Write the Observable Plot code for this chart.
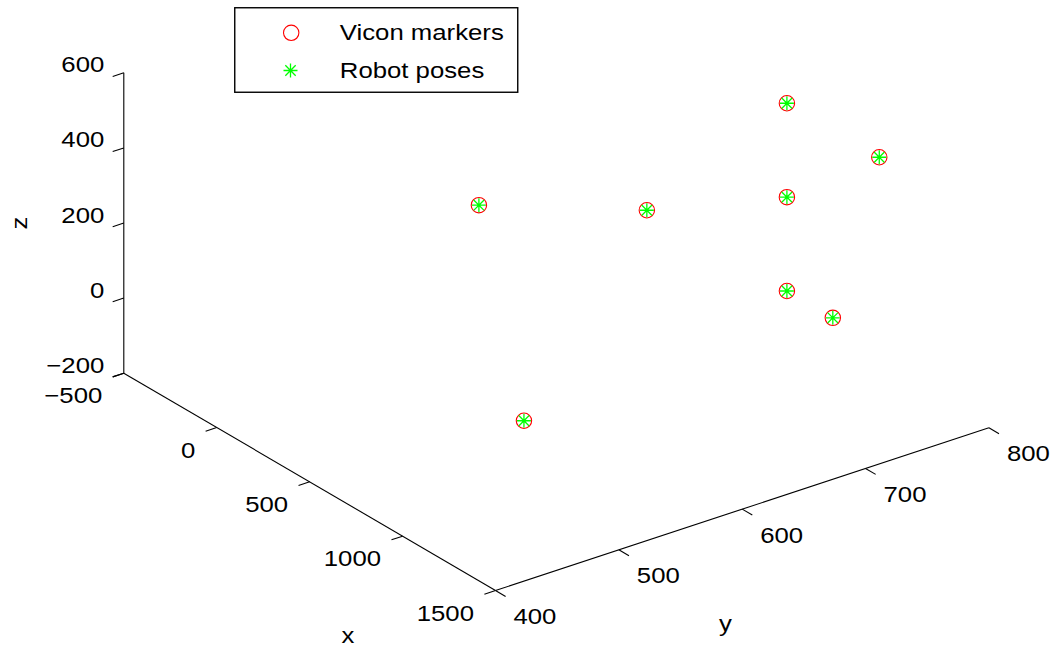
<!DOCTYPE html>
<html>
<head>
<meta charset="utf-8">
<script src="https://cdn.jsdelivr.net/npm/d3@7"></script>
<script src="https://cdn.jsdelivr.net/npm/@observablehq/plot@0.6"></script>
<style>
  html, body { margin: 0; padding: 0; background: #fff; }
  #wrap { position: relative; width: 1053px; height: 646px; }
  #legend { position: absolute; left: 234px; top: 7px; }
  text { font-family: "Liberation Sans", Arial, Helvetica, sans-serif; }
</style>
</head>
<body>
<div id="wrap"></div>
<script>
// ---- data ----
const viconX = [745, 1242, 747, -2, 745, 745, 992, 996];
const viconY = [750, 750, 500, 749, 750, 750, 750, 499];
const viconZ = [500, 500, 500, 0, 250, 0, 0, -1];

const robotX = [745, 1242, 747, -2, 745, 745, 992, 996];
const robotY = [750, 750, 500, 749, 750, 750, 750, 499];
const robotZ = [500, 500, 500, 0, 250, 0, 0, -1];

const xLim = [-500, 1500];
const yLim = [400, 800];
const zLim = [-200, 600];
const xTicks = [-500, 0, 500, 1000, 1500];
const yTicks = [400, 500, 600, 700, 800];
const zTicks = [-200, 0, 200, 400, 600];

const seriesNames = ["Vicon markers", "Robot poses"];

// ---- view (3-D box projected onto the page plane) ----
const ORIGIN = [123.3, 372.7];   // page position of box corner (xLim0, yLim0, zLim0)
const AX = [371.7, 217.3];       // page vector of the whole x axis
const AY = [493.4, -162.7];      // page vector of the whole y axis
const AZ = [0, -300.4];          // page vector of the whole z axis
const TICK = 11.7;
const STRETCH = 1.17;
const W = 1053, H = 646;

function proj(x, y, z) {
  const nx = (x - xLim[0]) / (xLim[1] - xLim[0]);
  const ny = (y - yLim[0]) / (yLim[1] - yLim[0]);
  const nz = (z - zLim[0]) / (zLim[1] - zLim[0]);
  return {
    u: ORIGIN[0] + nx * AX[0] + ny * AY[0] + nz * AZ[0],
    v: ORIGIN[1] + nx * AX[1] + ny * AY[1] + nz * AZ[1]
  };
}
const unit = (a) => { const l = Math.hypot(a[0], a[1]); return [a[0] / l, a[1] / l]; };
const uX = unit(AX), uY = unit(AY);
const fmt = (v) => String(v).replace("-", "\u2212");

const vicon = viconX.map((x, i) => ({...proj(x, viconY[i], viconZ[i])}));
const robot = robotX.map((x, i) => ({...proj(x, robotY[i], robotZ[i])}));

const seg = (a, b) => ({u1: a.u, v1: a.v, u2: b.u, v2: b.v});
const axisLines = [
  seg(proj(xLim[0], yLim[0], zLim[0]), proj(xLim[0], yLim[0], zLim[1])),
  seg(proj(xLim[0], yLim[0], zLim[0]), proj(xLim[1], yLim[0], zLim[0])),
  seg(proj(xLim[1], yLim[0], zLim[0]), proj(xLim[1], yLim[1], zLim[0]))
];
const tickOut = (p, d) => ({u1: p.u, v1: p.v, u2: p.u + d[0] * TICK, v2: p.v + d[1] * TICK});
const negY = [-uY[0], -uY[1]];
const zTickPts = zTicks.map(z => ({...proj(xLim[0], yLim[0], z), label: fmt(z)}));
const xTickPts = xTicks.map(x => ({...proj(x, yLim[0], zLim[0]), label: fmt(x)}));
const yTickPts = yTicks.map(y => ({...proj(xLim[1], y, zLim[0]), label: fmt(y)}));
const tickSegs = [
  ...zTickPts.map(p => tickOut(p, negY)),
  ...xTickPts.map(p => tickOut(p, negY)),
  ...yTickPts.map(p => tickOut(p, uX))
];

const zMid = proj(xLim[0], yLim[0], (zLim[0] + zLim[1]) / 2);
const xMid = proj((xLim[0] + xLim[1]) / 2, yLim[0], zLim[0]);
const yMid = proj(xLim[1], (yLim[0] + yLim[1]) / 2, zLim[0]);

const asterisk = {
  draw(context, size) {
    const r = Math.sqrt(size / Math.PI);
    const d = r * 0.74;
    context.moveTo(-r, 0); context.lineTo(r, 0);
    context.moveTo(0, -r); context.lineTo(0, r);
    context.moveTo(-d, -d); context.lineTo(d, d);
    context.moveTo(-d, d); context.lineTo(d, -d);
  }
};

const FS = 22;
const chart = Plot.plot({
  width: W,
  height: H,
  margin: 0,
  style: {fontFamily: '"Liberation Sans", Arial, Helvetica, sans-serif', fontSize: FS + "px", background: "white", color: "black"},
  x: {type: "linear", domain: [0, W], range: [0, W], axis: null},
  y: {type: "linear", domain: [0, H], range: [0, H], axis: null},
  marks: [
    Plot.link(axisLines, {x1: "u1", y1: "v1", x2: "u2", y2: "v2", stroke: "black", strokeWidth: 1.1}),
    Plot.link(tickSegs, {x1: "u1", y1: "v1", x2: "u2", y2: "v2", stroke: "black", strokeWidth: 1.1}),
    Plot.text(zTickPts, {x: "u", y: "v", text: "label", textAnchor: "end", lineAnchor: "middle", dx: -19.5, dy: -7.5, fontSize: FS, fill: "black"}),
    Plot.text(xTickPts, {x: "u", y: "v", text: "label", textAnchor: "end", lineAnchor: "middle", dx: -21.5, dy: 23, fontSize: FS, fill: "black"}),
    Plot.text(yTickPts, {x: "u", y: "v", text: "label", textAnchor: "start", lineAnchor: "middle", dx: 18, dy: 26.5, fontSize: FS, fill: "black"}),
    Plot.text([{...zMid, label: "z"}], {x: "u", y: "v", text: "label", rotate: -90, textAnchor: "middle", lineAnchor: "middle", dx: -103.6, dy: 0, fontSize: FS, fill: "black"}),
    Plot.text([{...xMid, label: "x"}], {x: "u", y: "v", text: "label", textAnchor: "middle", lineAnchor: "middle", dx: 38.3, dy: 154.4, fontSize: FS, fill: "black"}),
    Plot.text([{...yMid, label: "y"}], {x: "u", y: "v", text: "label", textAnchor: "middle", lineAnchor: "middle", dx: -16.7, dy: 114.4, fontSize: FS, fill: "black"}),
    Plot.dot(vicon, {x: "u", y: "v", r: 7.7, stroke: "#ff0000", strokeWidth: 1.1, fill: "none"}),
    Plot.dot(robot, {x: "u", y: "v", r: 7, symbol: asterisk, stroke: "#00ff00", strokeWidth: 1.3, fill: "none"})
  ]
});

// widen glyphs horizontally about each text's own anchor point
function stretchTexts(root) {
  root.querySelectorAll("text").forEach(t => {
    const tr = t.getAttribute("transform");
    if (tr && tr.includes("translate")) {
      t.setAttribute("transform", `${tr} scale(${STRETCH},1)`);
    } else {
      const x = parseFloat(t.getAttribute("x") || 0), y = parseFloat(t.getAttribute("y") || 0);
      if (!isNaN(x) && !isNaN(y) && !String(t.getAttribute("y") || "").includes("em")) {
        t.removeAttribute("x"); t.removeAttribute("y");
        t.setAttribute("transform", `${tr || ""} translate(${x},${y}) scale(${STRETCH},1)`);
      }
    }
  });
}
stretchTexts(chart);
document.getElementById("wrap").appendChild(chart);

// ---- legend (inside the axes box, top) ----
const leg = d3.create("svg").attr("id", "legend").attr("width", 285).attr("height", 86)
  .style("position", "absolute").style("left", "233.5px").style("top", "6.5px");
leg.append("rect").attr("x", 0.75).attr("y", 0.75).attr("width", 283).attr("height", 84.5)
  .attr("fill", "white").attr("stroke", "black").attr("stroke-width", 1.4);
leg.append("circle").attr("cx", 57.2).attr("cy", 25.8).attr("r", 7.7)
  .attr("fill", "none").attr("stroke", "#ff0000").attr("stroke-width", 1.1);
leg.append("path").attr("transform", "translate(56.5,63.5)")
  .attr("d", d3.symbol(asterisk, Math.PI * 49)())
  .attr("fill", "none").attr("stroke", "#00ff00").attr("stroke-width", 1.3);
seriesNames.forEach((name, i) => {
  leg.append("text").attr("transform", `translate(105.8,${[32.8, 70.8][i]}) scale(${STRETCH},1)`)
    .attr("font-size", FS).attr("fill", "black").text(name);
});
document.getElementById("wrap").appendChild(leg.node());
</script>
</body>
</html>
